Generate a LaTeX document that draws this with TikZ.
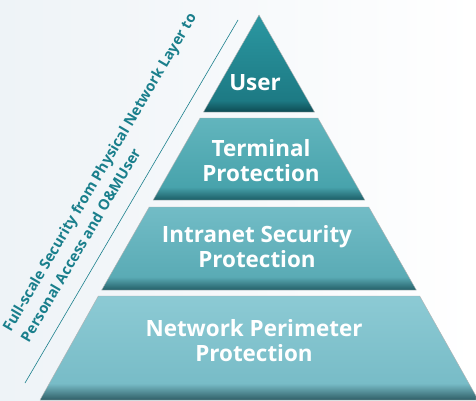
\documentclass[tikz,border=0pt]{standalone}
\usepackage{fontspec}
\setmainfont{Open Sans}
\definecolor{slogan}{HTML}{1A7F8C}
\definecolor{bgleft}{HTML}{EEF3F7}
\definecolor{udark}{HTML}{0E4A52}\definecolor{umid}{HTML}{1D7A84}\definecolor{utop}{HTML}{2B97A1}
\definecolor{tdark}{HTML}{1B5D66}\definecolor{tmid}{HTML}{48A3AC}\definecolor{ttop}{HTML}{62B5BD}
\definecolor{idark}{HTML}{245F68}\definecolor{imid}{HTML}{5AABB5}\definecolor{itop}{HTML}{72BCC6}
\definecolor{ndark}{HTML}{2F5E66}\definecolor{nmid}{HTML}{78BCC7}\definecolor{ntop}{HTML}{8CCAD4}
% one shading per layer: dark band at the bottom, light at the top
\pgfdeclareverticalshading{userlayer}{100bp}{color(0bp)=(udark); color(25bp)=(udark); color(31bp)=(umid); color(75bp)=(utop); color(100bp)=(utop)}
\pgfdeclareverticalshading{termlayer}{100bp}{color(0bp)=(tdark); color(25bp)=(tdark); color(33bp)=(tmid); color(75bp)=(ttop); color(100bp)=(ttop)}
\pgfdeclareverticalshading{intralayer}{100bp}{color(0bp)=(idark); color(25bp)=(idark); color(33bp)=(imid); color(75bp)=(itop); color(100bp)=(itop)}
\pgfdeclareverticalshading{netlayer}{100bp}{color(0bp)=(ndark); color(25bp)=(ndark); color(33bp)=(nmid); color(75bp)=(ntop); color(100bp)=(ntop)}
\begin{document}
\begin{tikzpicture}[x=1bp,y=1bp,%
% common options for the pyramid layers:
layer/.style = {draw=black!30, line width=0.4pt},
% common options for the white layer texts:
tier/.style = {text=white, font=\bfseries\fontsize{22.5}{25}\selectfont,
            align=center, anchor=center, inner sep=0},
% options for the rotated slogan:
motto/.style = {text=slogan, font=\bfseries\fontsize{14.7}{21}\selectfont,
            align=left, inner sep=0, rotate=59.5}]
\useasboundingbox (0,0) rectangle (476,400);
\fill[left color=bgleft, right color=white] (0,0) rectangle (476,400);
% layers, bottom up
\shade[layer, shading=netlayer]   (98.3,104) -- (419.7,104) -- (476,4) -- (476,0) -- (40,0) -- cycle;
\shade[layer, shading=intralayer] (149.2,193) -- (368.8,193) -- (416.3,110) -- (101.7,110) -- cycle;
\shade[layer, shading=termlayer]  (200.1,282) -- (317.9,282) -- (364.8,200) -- (153.2,200) -- cycle;
\shade[layer, shading=userlayer]  (259,385) -- (314.5,288) -- (203.5,288) -- cycle;
\node[tier] (L1) at (255,317) {User};
\node[tier] (L2) at (261,239) {Terminal\\Protection};
\node[tier] (L3) at (257,153) {Intranet Security\\Protection};
\node[tier] (L4) at (254,59) {Network Perimeter\\Protection};
% slogan along the side of the pyramid
\coordinate (D0) at (25,17);
\coordinate (D1) at (238,380);
\draw[slogan, line width=0.6pt] (D0) -- (D1);
\node[motto, anchor=north west] (S) at (1,73) {Full-scale Security from Physical Network Layer to\\Personal Access and O\&MUser};
\end{tikzpicture}
\end{document}
